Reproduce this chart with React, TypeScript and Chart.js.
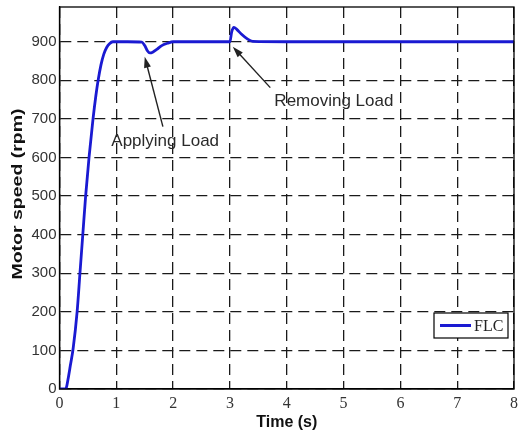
import React, { useEffect, useRef } from 'react';
import { Chart, registerables } from 'chart.js';

Chart.register(...registerables);

// ---- data ----
const timeS = [0, 0.1, 0.12, 0.15, 0.19, 0.24, 0.31, 0.36, 0.41, 0.46, 0.52, 0.59, 0.64, 0.68, 0.73, 0.78, 0.83, 0.88, 0.94, 1.0, 1.2, 1.45, 1.5, 1.55, 1.59, 1.64, 1.72, 1.8, 1.9, 2.0, 2.5, 3.0, 3.03, 3.07, 3.12, 3.2, 3.3, 3.4, 4, 5, 6, 7, 8];
const speedRpm = [0, 0, 3, 25, 60, 105, 200, 300, 400, 500, 600, 700, 760, 800, 840, 868, 885, 895, 900, 900, 900, 899, 890, 876, 871, 873, 881, 890, 896, 900, 900, 900, 925, 937, 932, 920, 908, 901, 900, 900, 900, 900, 900];
const xTicks = [0, 1, 2, 3, 4, 5, 6, 7, 8];
const yTicks = [0, 100, 200, 300, 400, 500, 600, 700, 800, 900];
const xRange = [0, 8];
const yRange = [0, 990];
const seriesLabel = 'FLC';
const xTitle = 'Time (s)';
const yTitle = 'Motor speed (rpm)';
const noteTexts = ['Applying Load', 'Removing Load'];
const noteTextT = [1.86, 4.83];
const noteTextV = [643, 745];
const noteTailT = [1.82, 3.71];
const noteTailV = [680, 781];
const noteHeadT = [1.5, 3.05];
const noteHeadV = [861, 887];

const LINE_COLOR = '#1a1ad2';

const overlayPlugin = {
  id: 'overlay',
  afterDraw(chart: any) {
    const { ctx, chartArea, scales } = chart;
    const xs = scales.x;
    const ys = scales.y;
    ctx.save();
    // frame
    ctx.strokeStyle = '#000';
    ctx.lineWidth = 1.3;
    ctx.setLineDash([]);
    ctx.strokeRect(chartArea.left, chartArea.top, chartArea.right - chartArea.left, chartArea.bottom - chartArea.top);

    // annotations
    ctx.font = '17px "Liberation Sans", Arial, sans-serif';
    ctx.textAlign = 'center';
    ctx.textBaseline = 'middle';
    for (let i = 0; i < noteTexts.length; i++) {
      ctx.fillStyle = '#2a2a2a';
      ctx.fillText(noteTexts[i], xs.getPixelForValue(noteTextT[i]), ys.getPixelForValue(noteTextV[i]));
      const x1 = xs.getPixelForValue(noteTailT[i]);
      const y1 = ys.getPixelForValue(noteTailV[i]);
      const x2 = xs.getPixelForValue(noteHeadT[i]);
      const y2 = ys.getPixelForValue(noteHeadV[i]);
      const ang = Math.atan2(y2 - y1, x2 - x1);
      const hl = 11;
      const hw = 3.5;
      ctx.strokeStyle = '#222';
      ctx.lineWidth = 1.4;
      ctx.beginPath();
      ctx.moveTo(x1, y1);
      ctx.lineTo(x2 - Math.cos(ang) * hl * 0.8, y2 - Math.sin(ang) * hl * 0.8);
      ctx.stroke();
      ctx.fillStyle = '#222';
      ctx.beginPath();
      ctx.moveTo(x2, y2);
      ctx.lineTo(x2 - Math.cos(ang) * hl - Math.sin(ang) * hw, y2 - Math.sin(ang) * hl + Math.cos(ang) * hw);
      ctx.lineTo(x2 - Math.cos(ang) * hl + Math.sin(ang) * hw, y2 - Math.sin(ang) * hl - Math.cos(ang) * hw);
      ctx.closePath();
      ctx.fill();
    }

    // legend (southeast inside)
    const bw = 74;
    const bh = 25;
    const bx = chartArea.right - 6 - bw;
    const by = chartArea.bottom - 51 - bh;
    ctx.fillStyle = '#fff';
    ctx.fillRect(bx, by, bw, bh);
    ctx.strokeStyle = '#000';
    ctx.lineWidth = 1.2;
    ctx.strokeRect(bx, by, bw, bh);
    ctx.strokeStyle = LINE_COLOR;
    ctx.lineWidth = 3;
    ctx.beginPath();
    ctx.moveTo(bx + 6, by + bh / 2);
    ctx.lineTo(bx + 37, by + bh / 2);
    ctx.stroke();
    ctx.fillStyle = '#222';
    ctx.font = '16px "Liberation Serif", "Times New Roman", serif';
    ctx.textAlign = 'left';
    ctx.textBaseline = 'middle';
    ctx.fillText(seriesLabel, bx + 40, by + bh / 2 + 1);

    // axis titles
    ctx.fillStyle = '#111';
    ctx.font = 'bold 16px "Liberation Sans", Arial, sans-serif';
    ctx.textAlign = 'center';
    ctx.textBaseline = 'middle';
    ctx.fillText(xTitle, (chartArea.left + chartArea.right) / 2, 422.5);

    ctx.save();
    ctx.translate(17.5, (chartArea.top + chartArea.bottom) / 2 - 4);
    ctx.rotate(-Math.PI / 2);
    ctx.scale(1.3, 1);
    ctx.font = 'bold 15px "Liberation Sans", Arial, sans-serif';
    ctx.fillText(yTitle, 0, 0);
    ctx.restore();

    ctx.restore();
  },
};

export default function App() {
  const ref = useRef<HTMLCanvasElement | null>(null);
  useEffect(() => {
    if (!ref.current) return;
    const points = timeS.map((t, i) => ({ x: t, y: speedRpm[i] }));
    const chart = new Chart(ref.current, {
      type: 'line',
      data: {
        datasets: [
          {
            label: seriesLabel,
            data: points,
            borderColor: LINE_COLOR,
            borderWidth: 2.8,
            pointRadius: 0,
            fill: false,
            cubicInterpolationMode: 'monotone',
          } as any,
        ],
      },
      options: {
        animation: false,
        responsive: true,
        maintainAspectRatio: false,
        layout: { autoPadding: false, padding: { top: 7, right: 5, left: 0, bottom: 0 } },
        plugins: { legend: { display: false }, tooltip: { enabled: false } },
        scales: {
          x: {
            type: 'linear',
            min: xRange[0],
            max: xRange[1],
            afterBuildTicks: (s: any) => {
              s.ticks = xTicks.map((v) => ({ value: v }));
            },
            afterFit: (s: any) => {
              s.height = 43;
              s.paddingLeft = 0;
              s.paddingRight = 0;
            },
            ticks: {
              color: '#333',
              padding: 5,
              maxRotation: 0,
              autoSkip: false,
              font: { family: '"Liberation Serif", "Times New Roman", serif', size: 16 },
            },
            grid: {
              color: '#1a1a1a',
              lineWidth: 1.3,
              drawTicks: false,
            },
            border: { display: true, color: '#000', width: 1.3, dash: [11, 6] },
          },
          y: {
            type: 'linear',
            min: yRange[0],
            max: yRange[1],
            afterBuildTicks: (s: any) => {
              s.ticks = yTicks.map((v) => ({ value: v }));
            },
            afterFit: (s: any) => {
              s.width = 59.5;
              s.paddingTop = 0;
              s.paddingBottom = 0;
            },
            ticks: {
              color: '#333',
              padding: 3,
              autoSkip: false,
              font: { family: '"Liberation Sans", Arial, sans-serif', size: 15 },
            },
            grid: {
              color: '#1a1a1a',
              lineWidth: 1.3,
              drawTicks: false,
            },
            border: { display: true, color: '#000', width: 1.3, dash: [11, 6] },
          },
        },
      },
      plugins: [overlayPlugin],
    });
    return () => chart.destroy();
  }, []);

  return (
    <div style={{ position: 'fixed', left: 0, top: 0, width: 519, height: 432, background: '#fff' }}>
      <canvas ref={ref} />
    </div>
  );
}
